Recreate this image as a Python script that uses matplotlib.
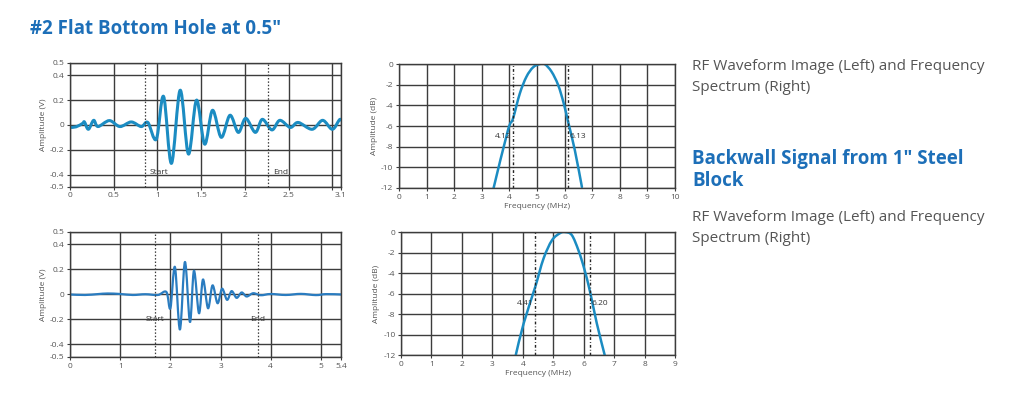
import numpy as np
import matplotlib
matplotlib.use("Agg")
import matplotlib.pyplot as plt
from matplotlib.path import Path
from matplotlib.patches import PathPatch

plt.rcParams['axes.unicode_minus'] = False
plt.rcParams['font.family'] = ['Open Sans', 'DejaVu Sans']

# --- data ---
# top waveform (#2 FBH), extrema (time us, amplitude V)
fbh_t = [0.0, 0.07, 0.145, 0.165, 0.21, 0.27, 0.32, 0.45, 0.57, 0.70, 0.815, 0.89, 0.987,
         1.07, 1.16, 1.26, 1.355, 1.447, 1.54, 1.63, 1.73, 1.83, 1.925, 2.01, 2.12,
         2.20, 2.31, 2.40, 2.52, 2.61, 2.77, 2.89, 3.0, 3.08, 3.1]
fbh_v = [-0.02, -0.015, 0.013, 0.024, -0.035, 0.037, -0.013, 0.035, -0.013, 0.024, -0.013, 0.02, -0.115,
         0.23, -0.31, 0.28, -0.235, 0.20, -0.155, 0.118, -0.10, 0.078, -0.06, 0.053, -0.06,
         0.045, -0.04, 0.037, -0.02, 0.02, -0.035, 0.037, -0.035, 0.04, 0.04]
fbh_start, fbh_end = 0.853, 2.26
fbh_xticks = [0, 0.5, 1, 1.5, 2, 2.5, 3, 3.1]
fbh_xlabels = ['0', '0.5', '1', '1.5', '2', '2.5', '', '3.1']

# bottom waveform (backwall)
bw_t = [0.0, 0.3, 0.55, 0.75, 1.0, 1.25, 1.5, 1.75, 1.92, 2.0, 2.09, 2.19, 2.29, 2.39, 2.47,
        2.57, 2.65, 2.75, 2.84, 2.94, 3.03, 3.13, 3.22, 3.32, 3.42, 3.52, 3.65, 3.8,
        4.0, 4.3, 4.6, 4.9, 5.1, 5.4]
bw_v = [0.0, -0.004, 0.003, 0.008, 0.004, -0.004, 0.002, -0.004, 0.02, -0.11, 0.22, -0.28, 0.26, -0.22, 0.19,
        -0.15, 0.12, -0.11, 0.073, -0.07, 0.046, -0.043, 0.027, -0.027, 0.016, -0.016, 0.01, -0.006,
        0.004, -0.004, 0.005, -0.005, 0.003, 0.0]
bw_start, bw_end = 1.70, 3.74
bw_xticks = [0, 1, 2, 3, 4, 5, 5.4]
bw_xlabels = ['0', '1', '2', '3', '4', '5', '5.4']

# spectra (MHz, dB)
fbh_f = [3.43, 3.95, 4.13, 4.38, 4.62, 4.86, 5.1, 5.28, 5.53, 5.77, 5.97, 6.13, 6.37, 6.63]
fbh_db = [-12, -6.4, -5.3, -2.85, -1.23, -0.32, 0.0, 0.0, -0.74, -2.04, -3.8, -5.6, -8.3, -11.9]
fbh_lo, fbh_hi = 4.12, 6.13

bw_f = [3.77, 4.03, 4.41, 4.68, 4.96, 5.23, 5.39, 5.61, 5.83, 6.02, 6.21, 6.43, 6.69]
bw_db = [-12, -8.9, -5.35, -2.6, -0.8, -0.1, 0.0, -0.3, -1.8, -3.6, -5.84, -8.9, -12]
bw_lo, bw_hi = 4.41, 6.20

wave_yticks = [0.5, 0.4, 0.2, 0, -0.2, -0.4, -0.5]
wave_ylabels = ['0.5', '0.4', '0.2', '0', '-0.2', '-0.4', '-0.5']
spec_yticks = [0, -2, -4, -6, -8, -10, -12]

BLUE = '#1d6fb8'
LINE = '#1b8cc2'
GRID = '#3c3c3c'
TXT = '#555555'


def smooth(ax, xs, ys, color, lw):
    # Catmull-Rom curve through the read points, drawn as a bezier path
    pts = np.column_stack([xs, ys]).astype(float)
    ext = np.vstack([pts[0], pts, pts[-1]])
    verts = [pts[0]]
    codes = [Path.MOVETO]
    for i in range(len(pts) - 1):
        p0, p1, p2, p3 = ext[i], ext[i + 1], ext[i + 2], ext[i + 3]
        verts += [p1 + (p2 - p0) / 6, p2 - (p3 - p1) / 6, p2]
        codes += [Path.CURVE4] * 3
    ax.add_patch(PathPatch(Path(verts, codes), fill=False, edgecolor=color,
                           lw=lw, capstyle='round', joinstyle='round'))


def style(ax):
    ax.grid(True, color=GRID, lw=1.0)
    for s in ax.spines.values():
        s.set_color(GRID)
        s.set_linewidth(1.0)
    ax.tick_params(labelsize=6, labelcolor=TXT, color=GRID, length=2.5, width=0.8, pad=1.5)
    ax.set_axisbelow(True)


fig = plt.figure(figsize=(10.24, 3.96), dpi=100)

# waveforms
for rect, ts, vs, xmax, xt, xl, st, en, lw, col, lab_y, ha in [
        ([0.0684, 0.528, 0.2646, 0.313], fbh_t, fbh_v, 3.1, fbh_xticks, fbh_xlabels,
         fbh_start, fbh_end, 2.2, LINE, -0.38, 'left'),
        ([0.0684, 0.0985, 0.2646, 0.3157], bw_t, bw_v, 5.4, bw_xticks, bw_xlabels,
         bw_start, bw_end, 1.6, '#2a7cc0', -0.2, 'center')]:
    ax = fig.add_axes(rect)
    style(ax)
    ax.set_xlim(0, xmax)
    ax.set_ylim(-0.5, 0.5)
    ax.set_xticks(xt)
    ax.set_xticklabels(xl)
    ax.set_yticks(wave_yticks)
    ax.set_yticklabels(wave_ylabels)
    ax.set_ylabel('Amplitude (V)', fontsize=6, color=TXT, labelpad=2)
    for x, name in [(st, 'Start'), (en, 'End')]:
        ax.axvline(x, color=GRID, lw=0.9, ls=(0, (1.2, 1.5)))
        off = 0.02 * xmax if ha == 'left' else 0
        ax.text(x + off, lab_y, name, fontsize=6, color='#333333', ha=ha, va='center')
    smooth(ax, ts, vs, col, lw)

# spectra
for rect, fs, dbs, xmax, lo, hi in [
        ([0.3896, 0.5253, 0.2695, 0.313], fbh_f, fbh_db, 10, fbh_lo, fbh_hi),
        ([0.3916, 0.1035, 0.2676, 0.3106], bw_f, bw_db, 9, bw_lo, bw_hi)]:
    ax = fig.add_axes(rect)
    style(ax)
    ax.set_xlim(0, xmax)
    ax.set_ylim(-12, 0)
    ax.set_xticks(range(xmax + 1))
    ax.set_yticks(spec_yticks)
    ax.set_yticklabels([str(v) for v in spec_yticks])
    ax.set_ylabel('Amplitude (dB)', fontsize=6, color=TXT, labelpad=2)
    ax.set_xlabel('Frequency (MHz)', fontsize=6, color=TXT, labelpad=2)
    for x in [lo, hi]:
        ax.axvline(x, color='#222222', lw=1.0, ls=(0, (2, 1.5, 0.6, 1.5)))
    smooth(ax, fs, dbs, LINE, 1.8)
    for x, ha in [(lo, 'right'), (hi, 'left')]:
        ax.text(x + (0.06 if ha == 'left' else -0.06), -7.0, '%.2f' % x, fontsize=6,
                color='#333333', ha=ha, va='center', zorder=5)

# headings and captions
fig.text(30 / 1024, 1 - 29 / 396, '#2 Flat Bottom Hole at 0.5"', fontsize=13.5,
         fontweight='bold', color=BLUE, va='center')
cap = 'RF Waveform Image (Left) and Frequency\nSpectrum (Right)'
fig.text(692 / 1024, 1 - 77 / 396, cap, fontsize=11, color=TXT, va='center', linespacing=1.6)
fig.text(692 / 1024, 1 - 170 / 396, 'Backwall Signal from 1" Steel\nBlock', fontsize=13.5,
         fontweight='bold', color=BLUE, va='center', linespacing=1.15)
fig.text(692 / 1024, 1 - 228 / 396, cap, fontsize=11, color=TXT, va='center', linespacing=1.6)

fig.savefig('out.png', dpi=100)
